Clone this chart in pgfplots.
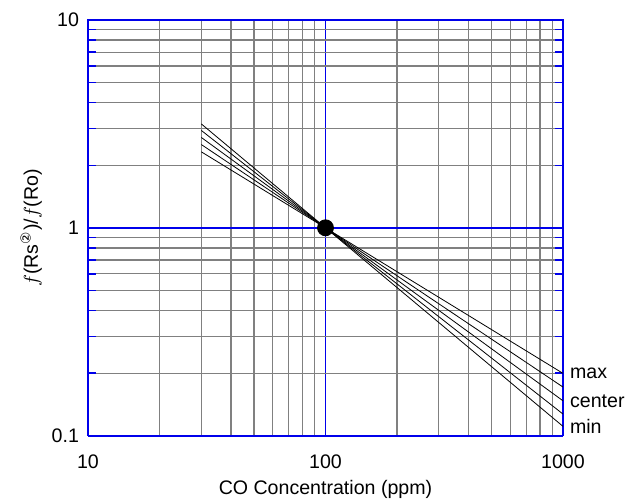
\documentclass[border=0pt]{standalone}
\usepackage{pgfplots}
\pgfplotsset{compat=1.18}
\usepackage{fontspec}
\setmainfont{Liberation Sans}
\newfontfamily\dejavu{DejaVu Sans}
\definecolor{gridblue}{RGB}{0,0,235}
\definecolor{gridgray}{RGB}{128,128,128}
\begin{document}
\begin{tikzpicture}[font=\fontsize{9.8pt}{11.5pt}\selectfont]
\useasboundingbox (-44pt,-31.65pt) rectangle (270pt,217.85pt);
\begin{loglogaxis}[
  at={(0,0)}, anchor=south west,
  scale only axis, width=237.5pt, height=207.9pt,
  xmin=10, xmax=1000, ymin=0.1, ymax=10,
  xtick={10,100,1000}, xticklabels={10,100,1000},
  ytick={0.1,1,10}, yticklabels={0.1,1,10},
  grid=both,
  major grid style={gridblue, line width=0.8pt},
  minor grid style={gridgray, line width=0.55pt},
  axis line style={gridblue, line width=0.7pt},
  major tick length=0pt,
  minor tick length=4pt,
  minor x tick style={draw=none},
  minor y tick style={gridblue, line width=0.7pt},
  xlabel={CO Concentration (ppm)},
  ylabel={$f$(Rs\textsuperscript{\dejavu ②})/$f$(Ro)},
  xticklabel shift=6pt,
  yticklabel shift=1pt,
  xlabel style={yshift=1pt},
  ylabel style={yshift=-2pt},
  tick label style={font=\fontsize{9.8pt}{11.5pt}\selectfont},
  clip=false,
]
\addplot[black, line width=0.4pt] coordinates {(30,2.32) (1000,0.1995)};
\addplot[black, line width=0.4pt] coordinates {(30,2.515) (1000,0.1714)};
\addplot[black, line width=0.4pt] coordinates {(30,2.72) (1000,0.1472)};
\addplot[black, line width=0.4pt] coordinates {(30,2.94) (1000,0.1271)};
\addplot[black, line width=0.4pt] coordinates {(30,3.16) (1000,0.1109)};
\addplot[only marks, mark=*, mark size=4pt, black] coordinates {(100,1)};
\node[anchor=west] at (axis cs:1000,0.1995) {max};
\node[anchor=west] at (axis cs:1000,0.1472) {center};
\node[anchor=west] at (axis cs:1000,0.1109) {min};
\end{loglogaxis}
\end{tikzpicture}
\end{document}
